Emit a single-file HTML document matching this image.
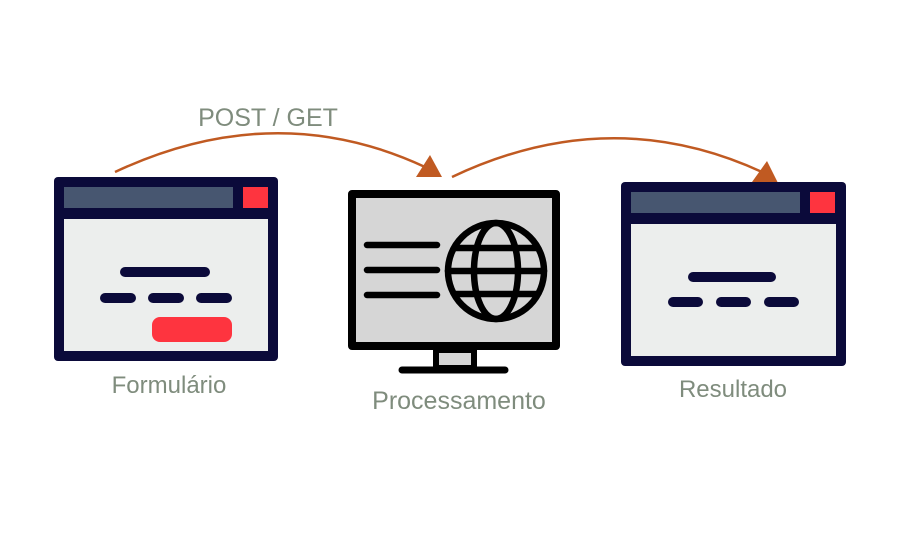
<!DOCTYPE html>
<html><head><meta charset="utf-8"><style>
body{margin:0;background:#fff;}
svg{display:block}
text{font-family:"Liberation Sans",sans-serif;fill:#7f8c7d;}
</style></head><body>
<svg width="900" height="538" viewBox="0 0 900 538">
<rect width="900" height="538" fill="#fff"/>
<path d="M115 172 Q275 97 425 167" fill="none" stroke="#c05a22" stroke-width="2.5"/>
<polygon points="416,177 442,177 430,155" fill="#c05a22"/>
<path d="M452 177 Q610 102 762 172" fill="none" stroke="#c05a22" stroke-width="2.5"/>
<polygon points="752,182 778,183 767,161" fill="#c05a22"/>
<text x="268" y="126" font-size="25" text-anchor="middle">POST / GET</text>
<rect x="54" y="177" width="224" height="184" rx="4" fill="#0b0a3a"/>
<rect x="64" y="187" width="169" height="21" fill="#475670"/>
<rect x="243" y="187" width="25" height="21" fill="#fe343f"/>
<rect x="64" y="219" width="204" height="132" fill="#eceeed"/>
<g stroke="#0b0a3a" stroke-width="10" stroke-linecap="round">
<line x1="125" y1="272" x2="205" y2="272"/>
<line x1="105" y1="298" x2="131" y2="298"/>
<line x1="153" y1="298" x2="179" y2="298"/>
<line x1="201" y1="298" x2="227" y2="298"/>
</g>
<rect x="152" y="317" width="80" height="25" rx="8" fill="#fe343f"/>
<text x="169" y="393" font-size="24" text-anchor="middle">Formulário</text>
<rect x="352" y="194" width="204" height="152" fill="#d6d6d6" stroke="#000" stroke-width="8" stroke-linejoin="round"/>
<rect x="436" y="350" width="38" height="18" fill="#d6d6d6" stroke="#000" stroke-width="6"/>
<line x1="402" y1="370" x2="505" y2="370" stroke="#000" stroke-width="7" stroke-linecap="round"/>
<g stroke="#000" stroke-width="6.5" stroke-linecap="round" fill="none">
<line x1="367" y1="245" x2="437" y2="245"/>
<line x1="367" y1="270" x2="437" y2="270"/>
<line x1="367" y1="295" x2="437" y2="295"/>
<circle cx="496" cy="271" r="48"/>
<ellipse cx="496" cy="271" rx="22" ry="48"/>
<line x1="448" y1="271" x2="544" y2="271"/>
<line x1="455" y1="248" x2="537" y2="248"/>
<line x1="455" y1="294" x2="537" y2="294"/>
</g>
<text x="459" y="409" font-size="25" text-anchor="middle">Processamento</text>
<rect x="621" y="182" width="225" height="184" rx="4" fill="#0b0a3a"/>
<rect x="631" y="192" width="169" height="21" fill="#475670"/>
<rect x="810" y="192" width="25" height="21" fill="#fe343f"/>
<rect x="631" y="224" width="205" height="132" fill="#eceeed"/>
<g stroke="#0b0a3a" stroke-width="10" stroke-linecap="round">
<line x1="693" y1="277" x2="771" y2="277"/>
<line x1="673" y1="302" x2="698" y2="302"/>
<line x1="721" y1="302" x2="746" y2="302"/>
<line x1="769" y1="302" x2="794" y2="302"/>
</g>
<text x="733" y="397" font-size="24" text-anchor="middle">Resultado</text>
</svg>
</body></html>
